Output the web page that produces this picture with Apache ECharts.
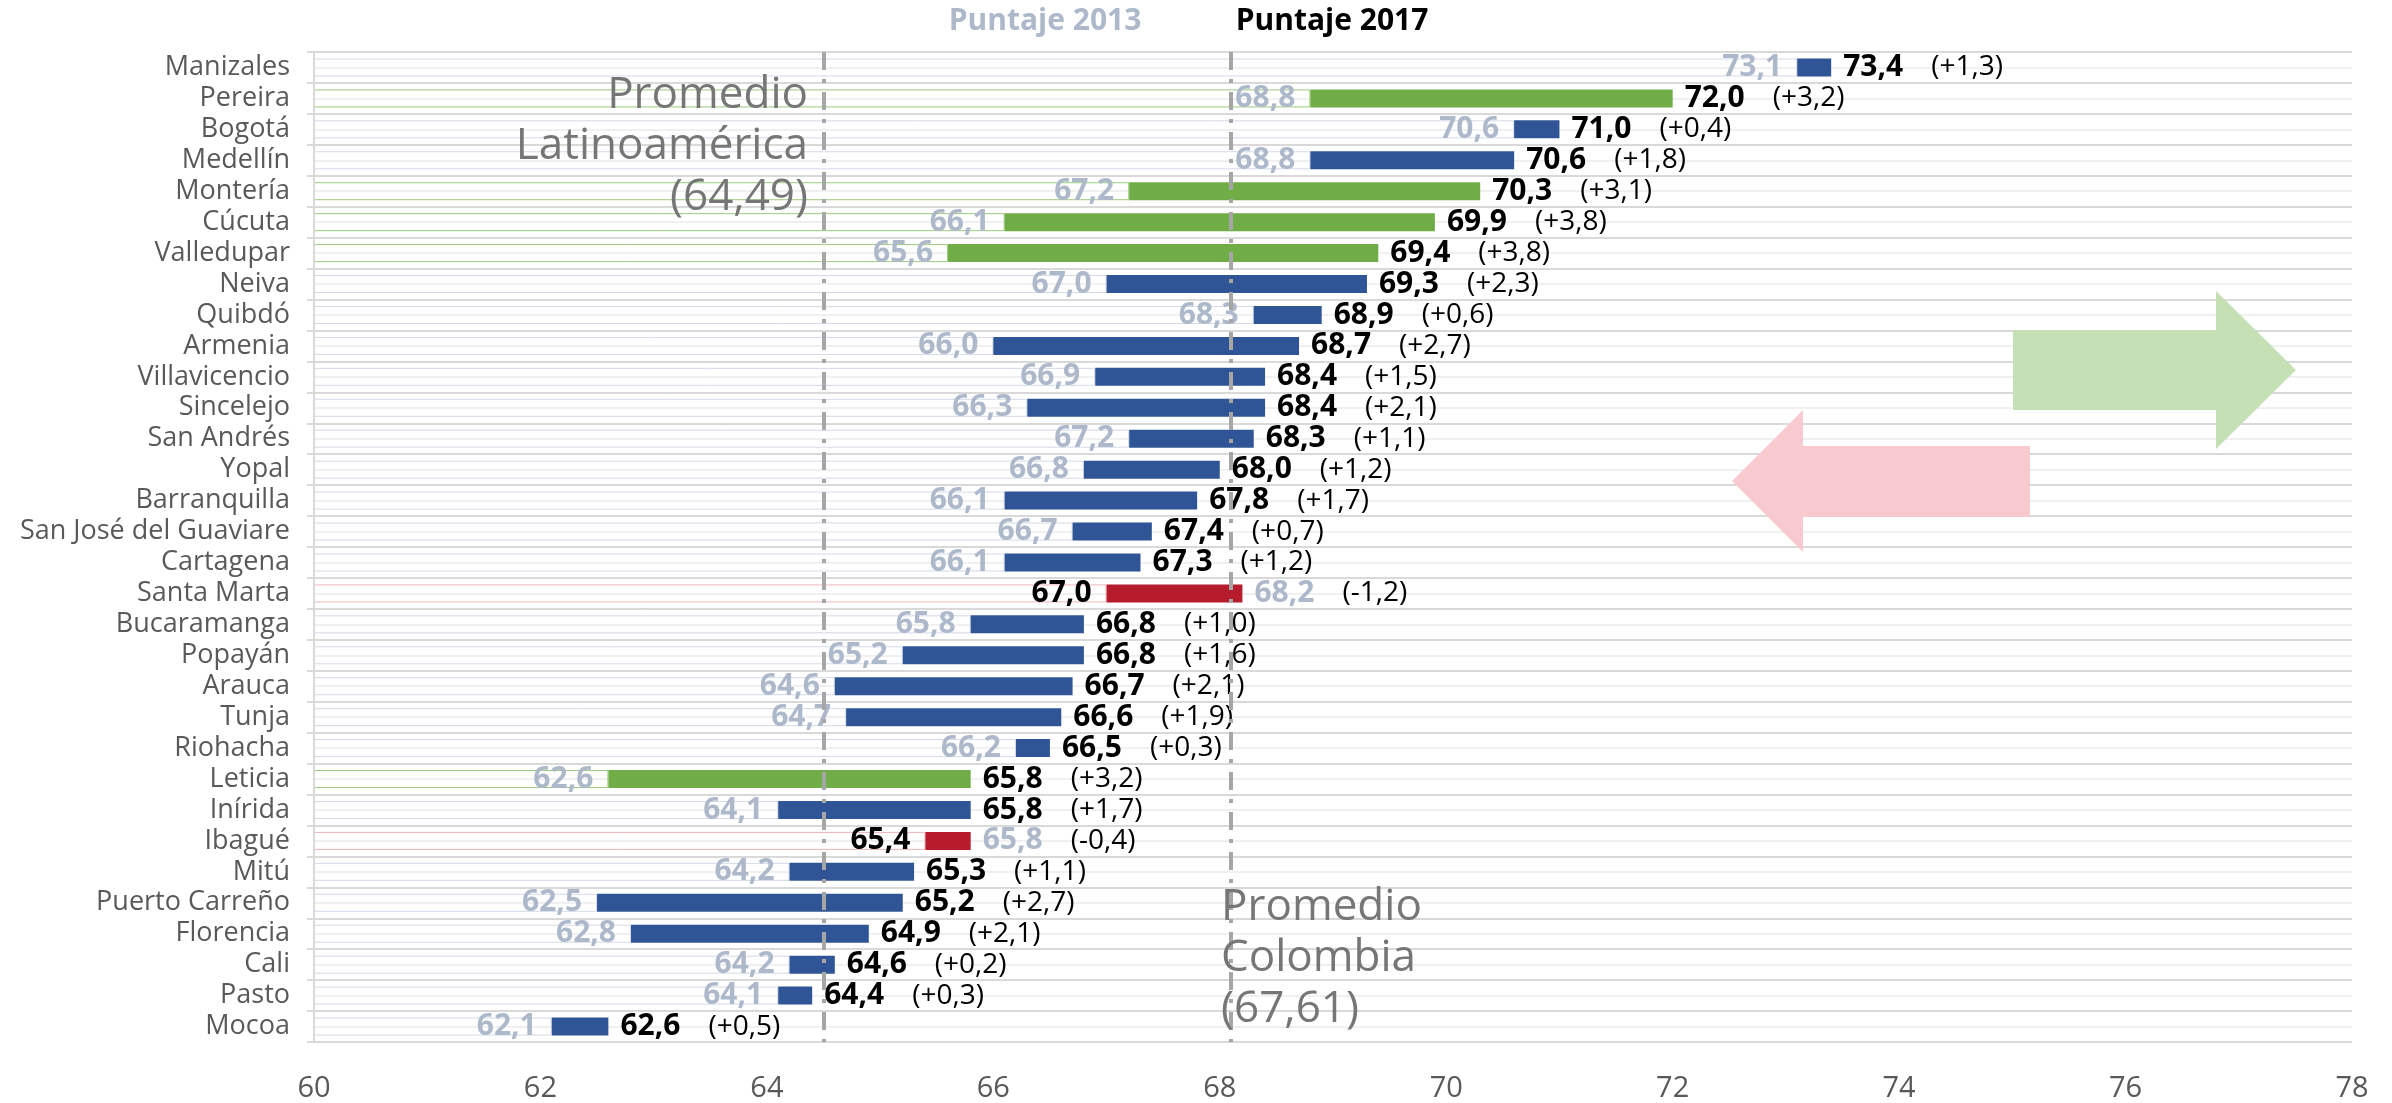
<!DOCTYPE html>
<html><head><meta charset="utf-8">
<script src="https://cdn.jsdelivr.net/npm/echarts@6/dist/echarts.min.js"></script>
<style>html,body{margin:0;padding:0;background:#fff}#c{width:2392px;height:1103px}</style>
</head><body><div id="c"></div>
<script>
// ---- data ----
const cities = ['Manizales','Pereira','Bogotá','Medellín','Montería','Cúcuta','Valledupar','Neiva','Quibdó','Armenia','Villavicencio','Sincelejo','San Andrés','Yopal','Barranquilla','San José del Guaviare','Cartagena','Santa Marta','Bucaramanga','Popayán','Arauca','Tunja','Riohacha','Leticia','Inírida','Ibagué','Mitú','Puerto Carreño','Florencia','Cali','Pasto','Mocoa'];
const score2013 = [73.1,68.8,70.6,68.8,67.2,66.1,65.6,67.0,68.3,66.0,66.9,66.3,67.2,66.8,66.1,66.7,66.1,68.2,65.8,65.2,64.6,64.7,66.2,62.6,64.1,65.8,64.2,62.5,62.8,64.2,64.1,62.1];
const score2017 = [73.4,72.0,71.0,70.6,70.3,69.9,69.4,69.3,68.9,68.7,68.4,68.4,68.3,68.0,67.8,67.4,67.3,67.0,66.8,66.8,66.7,66.6,66.5,65.8,65.8,65.4,65.3,65.2,64.9,64.6,64.4,62.6];
const changeLabel = [1.3,3.2,0.4,1.8,3.1,3.8,3.8,2.3,0.6,2.7,1.5,2.1,1.1,1.2,1.7,0.7,1.2,-1.2,1.0,1.6,2.1,1.9,0.3,3.2,1.7,-0.4,1.1,2.7,2.1,0.2,0.3,0.5];
const xTicks = [60,62,64,66,68,70,72,74,76,78];
const latamLineAt = 64.5, latamText = '64,49';
const colombiaLineAt = 68.1, colombiaText = '67,61';

// ---- styles ----
const BLUE='#2f5597', GREEN='#70ad47', RED='#b71c2c', LIGHT='#adb9ca';
const FONT='"Open Sans"';
const fmt = v => v.toFixed(1).replace('.', ',');
const fmtD = d => '(' + (d>0?'+':'') + d.toFixed(1).replace('.', ',') + ')';
const barColor = i => score2017[i] < score2013[i] ? RED : (score2017[i]-score2013[i] >= 3 ? GREEN : BLUE);
const edgeColor = i => score2017[i] < score2013[i] ? '#eeb5bb' : (score2017[i]-score2013[i] >= 3 ? '#9ccb7e' : '#d3dae7');

const baseData = cities.map((c,i)=>({value: Math.min(score2013[i],score2017[i]), itemStyle:{borderColor: edgeColor(i)}}));
const diffData = cities.map((c,i)=>({value: +Math.abs(score2017[i]-score2013[i]).toFixed(2), itemStyle:{color: barColor(i)}}));

const chart = echarts.init(document.getElementById('c'), null, {renderer:'canvas'});
chart.setOption({
  animation:false,
  backgroundColor:'#fff',
  textStyle:{fontFamily:FONT},
  grid:{left:314, right:40, top:52, bottom:57, containLabel:false},
  xAxis:{type:'value', min:xTicks[0], max:xTicks[xTicks.length-1], interval:2,
    axisLine:{show:false}, axisTick:{show:false}, splitLine:{show:false},
    axisLabel:{fontSize:29, color:'#595959', margin:32, fontFamily:FONT}},
  yAxis:[
    {type:'category', data:cities, inverse:true, z:5,
     axisLine:{show:true, lineStyle:{color:'#d9d9d9', width:2}},
     axisTick:{show:true, length:7, lineStyle:{color:'#d9d9d9', width:2}},
     splitLine:{show:false},
     axisLabel:{interval:0, fontSize:27, color:'#595959', margin:24, fontFamily:FONT}},
    {type:'value', min:0, max:cities.length, interval:1, position:'right',
     axisLine:{show:false}, axisTick:{show:false}, axisLabel:{show:false},
     splitLine:{show:true, lineStyle:{color:'#d9d9d9', width:2}},
     minorTick:{show:false, splitNumber:2},
     minorSplitLine:{show:true, lineStyle:{color:'#f0f0f0', width:2}}}
  ],
  series:[
    {name:'base', type:'bar', stack:'s', barWidth:18, data:baseData,
     itemStyle:{color:'rgba(0,0,0,0)', borderWidth:1},
     label:{show:true, position:'insideRight', distance:15,
       formatter:p=>{const i=p.dataIndex; return score2017[i]<score2013[i] ? '{k|'+fmt(score2017[i])+'}' : '{l|'+fmt(score2013[i])+'}';},
       rich:{k:{fontSize:30, fontWeight:'bold', color:'#000', fontFamily:FONT},
             l:{fontSize:30, fontWeight:'bold', color:LIGHT, fontFamily:FONT}}}},
    {name:'change', type:'bar', stack:'s', barWidth:18, data:diffData,
     label:{show:true, position:'right', distance:12,
       formatter:p=>{const i=p.dataIndex; const dec=score2017[i]<score2013[i];
         return (dec ? '{l|'+fmt(score2013[i])+'}' : '{k|'+fmt(score2017[i])+'}') + '{d|'+fmtD(changeLabel[i])+'}';},
       rich:{k:{fontSize:30, fontWeight:'bold', color:'#000', fontFamily:FONT},
             l:{fontSize:30, fontWeight:'bold', color:LIGHT, fontFamily:FONT},
             d:{fontSize:28, color:'#000', fontFamily:FONT, padding:[0,0,0,28]}}},
     markLine:{symbol:'none', silent:true, label:{show:false},
       lineStyle:{color:'#a6a6a6', width:4, type:[18,9,4,9]},
       data:[{xAxis:latamLineAt},{xAxis:colombiaLineAt}]}}
  ],
  graphic:[
    {type:'polygon', z:10, shape:{points:[[2013,330],[2216,330],[2216,291],[2296,370],[2216,449],[2216,410],[2013,410]]}, style:{fill:'#c5e0b4'}},
    {type:'polygon', z:10, shape:{points:[[2030,446],[1803,446],[1803,410],[1732,481],[1803,552],[1803,517],[2030,517]]}, style:{fill:'#f8cacf'}},
    {type:'text', z:10, x:808, y:146, style:{text:'Promedio\nLatinoamérica\n('+latamText+')', font:'44px '+FONT, fill:'#767676', align:'right', verticalAlign:'middle', lineHeight:51}},
    {type:'text', z:10, x:1221, y:958, style:{text:'Promedio\nColombia\n('+colombiaText+')', font:'44px '+FONT, fill:'#767676', align:'left', verticalAlign:'middle', lineHeight:51}},
    {type:'text', z:10, x:1045, y:21, style:{text:'Puntaje 2013', font:'bold 30px '+FONT, fill:LIGHT, align:'center', verticalAlign:'middle'}},
    {type:'text', z:10, x:1332, y:21, style:{text:'Puntaje 2017', font:'bold 30px '+FONT, fill:'#000', align:'center', verticalAlign:'middle'}}
  ]
});
</script></body></html>
